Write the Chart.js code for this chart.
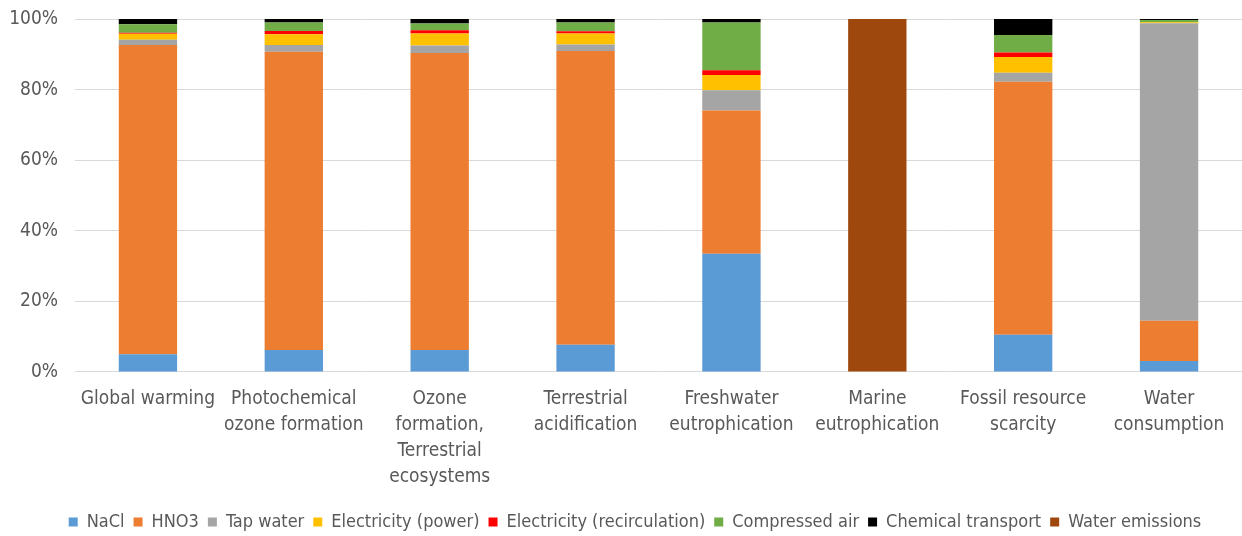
<!DOCTYPE html>
<html>
<head>
<meta charset="utf-8">
<script src="https://cdn.jsdelivr.net/npm/chart.js@4"></script>
<style>
  html, body { margin: 0; padding: 0; background: #fff; }
  #wrap { width: 1242px; height: 536px; }
</style>
</head>
<body>
<div id="wrap"><canvas id="c" width="1242" height="536"></canvas></div>
<script>
const categories = [
  "Global warming",
  ["Photochemical", "ozone formation"],
  ["Ozone", "formation,", "Terrestrial", "ecosystems"],
  ["Terrestrial", "acidification"],
  ["Freshwater", "eutrophication"],
  ["Marine", "eutrophication"],
  ["Fossil resource", "scarcity"],
  ["Water", "consumption"]
];
const seriesNames = ["NaCl", "HNO3", "Tap water", "Electricity (power)", "Electricity (recirculation)", "Compressed air", "Chemical transport", "Water emissions"];
const nacl        = [5.0, 6.2, 6.2, 7.7, 33.5, 0, 10.5, 3.1];
const hno3        = [87.6, 84.5, 84.2, 83.2, 40.6, 0, 71.7, 11.4];
const tapWater    = [1.5, 1.9, 2.1, 1.9, 5.7, 0, 2.6, 84.3];
const elecPower   = [1.7, 3.1, 3.4, 3.1, 4.3, 0, 4.4, 0.3];
const elecRecirc  = [0.3, 0.9, 0.9, 0.6, 1.4, 0, 1.3, 0.0];
const compAir     = [2.4, 2.4, 1.9, 2.5, 13.5, 0, 5.0, 0.6];
const chemTrans   = [1.5, 1.0, 1.3, 1.0, 1.0, 0, 4.5, 0.3];
const waterEmis   = [0, 0, 0, 0, 0, 100, 0, 0];
const yTicks = [0, 20, 40, 60, 80, 100];

const seriesValues = [nacl, hno3, tapWater, elecPower, elecRecirc, compAir, chemTrans, waterEmis];
const colors = ["#5B9BD5", "#ED7D31", "#A5A5A5", "#FFC000", "#FF0000", "#70AD47", "#000000", "#9E480E"];

const FONT = "'DejaVu Sans Condensed', 'Liberation Sans Narrow', sans-serif";

const legendShift = {
  id: 'legendShift',
  afterLayout(chart) {
    const lg = chart.legend;
    if (lg) { lg.left += 14; lg.right += 14; }
  }
};

new Chart(document.getElementById('c'), {
  type: 'bar',
  data: {
    labels: categories,
    datasets: seriesNames.map((n, i) => ({
      label: n,
      data: seriesValues[i],
      backgroundColor: colors[i],
      borderWidth: 0,
      barPercentage: 0.8,
      categoryPercentage: 0.5
    }))
  },
  plugins: [legendShift],
  options: {
    responsive: false,
    animation: false,
    layout: { padding: { top: 19, right: 0, bottom: -5, left: 0 } },
    plugins: {
      legend: {
        position: 'bottom',
        labels: {
          boxWidth: 9, boxHeight: 9, padding: 9,
          color: '#595959',
          font: { family: FONT, size: 18 }
        }
      },
      tooltip: { enabled: false }
    },
    scales: {
      x: {
        stacked: true,
        afterFit: s => { s.height += 8; },
        grid: { display: false },
        border: { display: false },
        ticks: { color: '#595959', font: { family: FONT, size: 19, lineHeight: 1.37 }, padding: 6, maxRotation: 0, autoSkip: false }
      },
      y: {
        stacked: true,
        min: 0, max: 100,
        afterFit: s => { s.width = 75; s.paddingTop = 0; },
        afterBuildTicks: s => { s.ticks = yTicks.map(v => ({ value: v })); },
        grid: { color: '#D9D9D9', drawTicks: false, lineWidth: 1 },
        border: { display: false },
        ticks: { color: '#595959', font: { family: FONT, size: 19 }, padding: 17, callback: v => v + '%' }
      }
    }
  }
});
</script>
</body>
</html>
